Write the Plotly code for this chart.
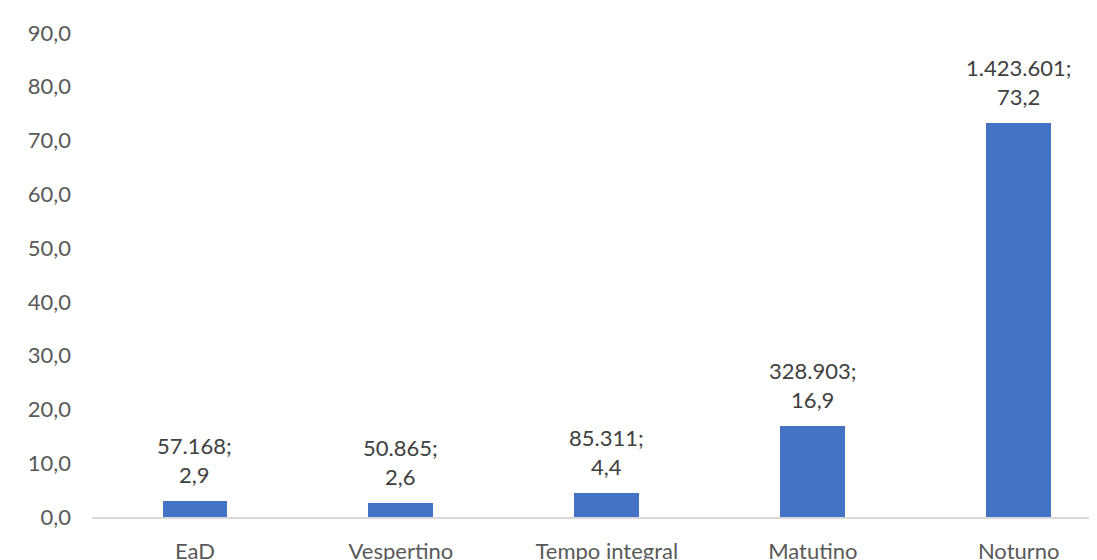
import plotly.graph_objects as go

categories = ["EaD", "Vespertino", "Tempo integral", "Matutino", "Noturno"]
counts = [57168, 50865, 85311, 328903, 1423601]
percents = [2.9, 2.6, 4.4, 16.9, 73.2]
y_ticks = [0, 10, 20, 30, 40, 50, 60, 70, 80, 90]

def fmt_int(n):
    return f"{n:,}".replace(",", ".")

def fmt_dec(v):
    return f"{v:.1f}".replace(".", ",")

FONT = "Lato, 'Open Sans', sans-serif"

fig = go.Figure()
fig.add_trace(go.Bar(
    x=categories, y=percents, width=0.315,
    marker=dict(color="#4472C4", line=dict(width=0)),
    hoverinfo="skip",
))

for c, n, p in zip(categories, counts, percents):
    fig.add_annotation(
        x=c, y=p, text=f"{fmt_int(n)};<br>{fmt_dec(p)}",
        showarrow=False, yanchor="bottom", yshift=11,
        font=dict(family=FONT, size=22, color="#404040"),
    )

# page body has an 8px default margin, so the figure is sized to fit the window
fig.update_layout(
    width=1089, height=552,
    margin=dict(l=84, r=0, t=25, b=43, autoexpand=False),
    paper_bgcolor="white", plot_bgcolor="white",
    separators=",.",
    showlegend=False,
    font=dict(family=FONT, size=22, color="#595959"),
    bargap=0,
)
fig.update_xaxes(
    range=[-0.5, 4.38], showline=True, linecolor="#D9D9D9", linewidth=1.5,
    showgrid=False, zeroline=False, ticks="", ticklabelstandoff=14,
    automargin=False,
    tickfont=dict(family=FONT, size=22, color="#595959"),
)
fig.update_yaxes(
    range=[0, 90], tickvals=y_ticks, tickformat=".1f",
    showgrid=False, zeroline=False, showline=False, ticks="",
    ticklabelstandoff=20, automargin=False,
    tickfont=dict(family=FONT, size=22, color="#595959"),
)

fig.write_html("out.html")
